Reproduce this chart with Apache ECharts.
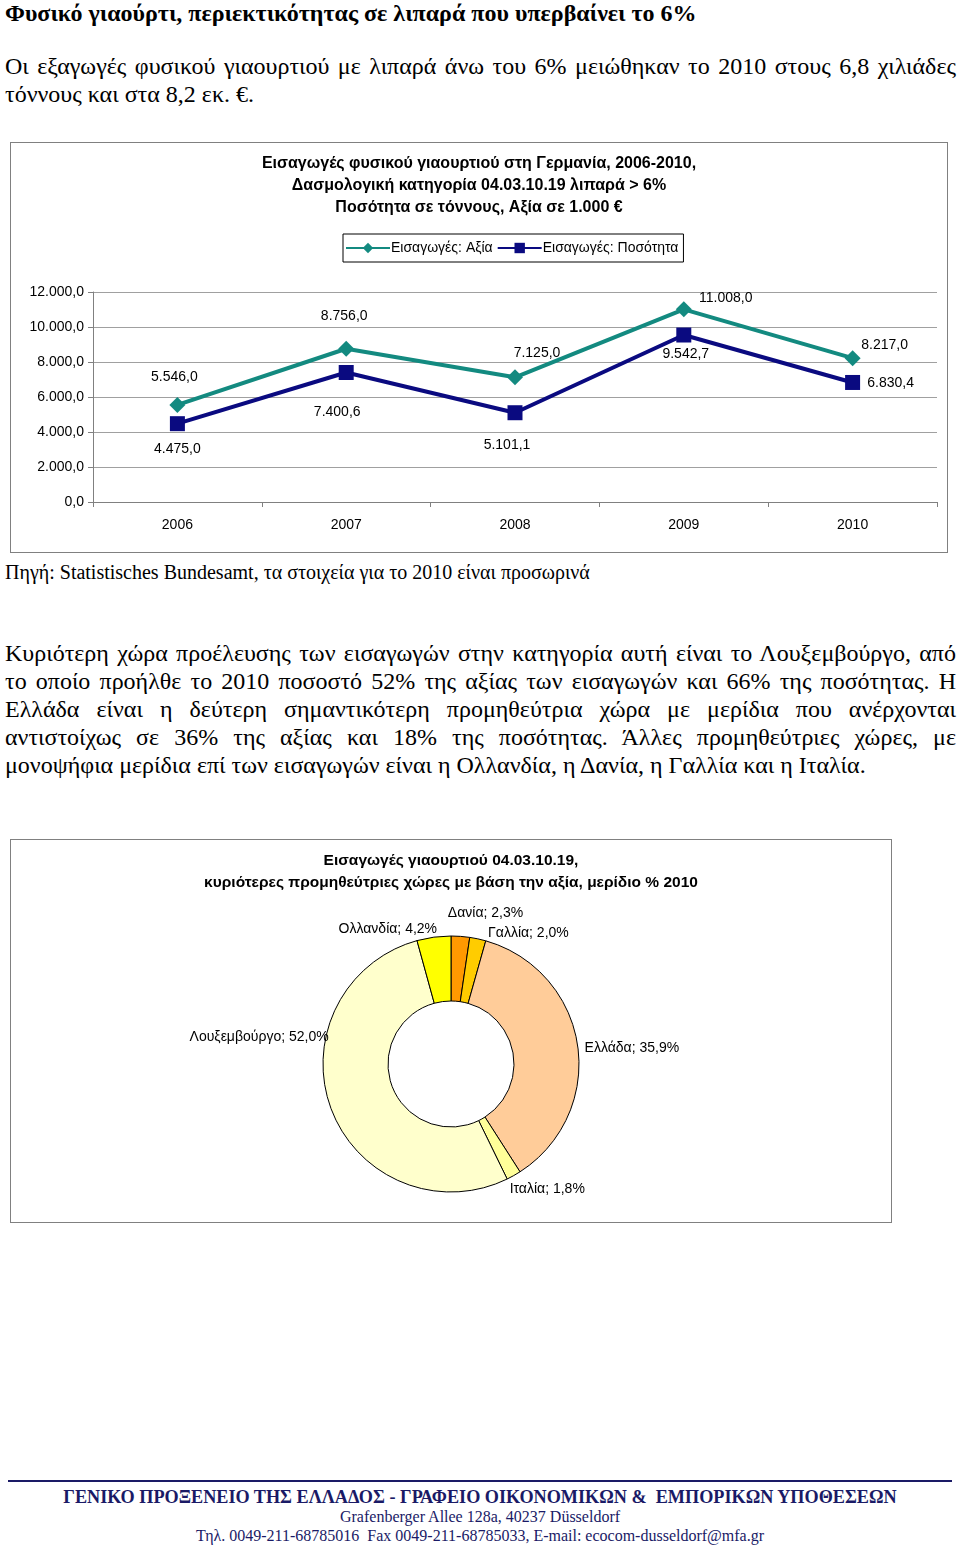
<!DOCTYPE html>
<html>
<head>
<meta charset="utf-8">
<script src="https://cdn.jsdelivr.net/npm/echarts@6/dist/echarts.min.js"></script>
<style>
  html, body { margin:0; padding:0; background:#fff; }
  body { width:960px; height:1553px; position:relative; overflow:hidden; font-family:"Liberation Serif", "DejaVu Serif", serif; color:#000; }
  .abs { position:absolute; }
  .title { left:5px; top:0px; font-size:24px; font-weight:bold; line-height:26px; white-space:nowrap; }
  .para { left:5px; width:951px; font-size:24px; line-height:28px; text-align:justify; }
  .src { left:5px; top:560px; font-size:20px; line-height:24px; white-space:nowrap; }
  .box { border:1px solid #808080; box-sizing:border-box; }
  .foot { left:0; width:960px; text-align:center; color:#1a1a66; white-space:nowrap; }
</style>
</head>
<body>
<div class="abs title">Φυσικό γιαούρτι, περιεκτικότητας σε λιπαρά που υπερβαίνει το 6%</div>
<div class="abs para" style="top:52px;">Οι εξαγωγές φυσικού γιαουρτιού με λιπαρά άνω του 6% μειώθηκαν το 2010 στους 6,8 χιλιάδες τόννους και στα 8,2 εκ. €.</div>

<div id="line" class="abs box" style="left:10px; top:142px; width:938px; height:411px;"></div>

<div class="abs src">Πηγή: Statistisches Bundesamt, τα στοιχεία για το 2010 είναι προσωρινά</div>

<div class="abs para" style="top:639px;">Κυριότερη χώρα προέλευσης των εισαγωγών στην κατηγορία αυτή είναι το Λουξεμβούργο, από το οποίο προήλθε το 2010 ποσοστό 52% της αξίας των εισαγωγών και 66% της ποσότητας. Η Ελλάδα είναι η δεύτερη σημαντικότερη προμηθεύτρια χώρα με μερίδια που ανέρχονται αντιστοίχως σε 36% της αξίας και 18% της ποσότητας. Άλλες προμηθεύτριες χώρες, με μονοψήφια μερίδια επί των εισαγωγών είναι η Ολλανδία, η Δανία, η Γαλλία και η Ιταλία.</div>

<div id="pie" class="abs box" style="left:10px; top:839px; width:882px; height:384px;"></div>

<div class="abs" style="left:8px; top:1480px; width:944px; height:2px; background:#1a1a66;"></div>
<div class="abs foot" style="top:1487px; font-size:18.2px; font-weight:bold; line-height:20px;">ΓΕΝΙΚΟ ΠΡΟΞΕΝΕΙΟ ΤΗΣ ΕΛΛΑΔΟΣ - ΓΡΑΦΕΙΟ ΟΙΚΟΝΟΜΙΚΩΝ &amp;&nbsp; ΕΜΠΟΡΙΚΩΝ ΥΠΟΘΕΣΕΩΝ</div>
<div class="abs foot" style="top:1507px; font-size:16px; line-height:20px;">Grafenberger Allee 128a, 40237 Düsseldorf</div>
<div class="abs foot" style="top:1526px; font-size:16px; line-height:20px;">Τηλ. 0049-211-68785016&nbsp; Fax 0049-211-68785033, E-mail: ecocom-dusseldorf@mfa.gr</div>

<script>
// ---- Data ----
const years = ["2006", "2007", "2008", "2009", "2010"];
const valueSeries = [5546.0, 8756.0, 7125.0, 11008.0, 8217.0];   // Εισαγωγές: Αξία (1.000 €)
const quantitySeries = [4475.0, 7400.6, 5101.1, 9542.7, 6830.4]; // Εισαγωγές: Ποσότητα (t)
const yTicks = [0, 2000, 4000, 6000, 8000, 10000, 12000];

const countries = ["Δανία", "Γαλλία", "Ελλάδα", "Ιταλία", "Λουξεμβούργο", "Ολλανδία"];
const shares = [2.3, 2.0, 35.9, 1.8, 52.0, 4.2];

// ---- Helpers / styles ----
function fmtNum(v) {
  const s = v.toFixed(1);
  let [i, d] = s.split(".");
  i = i.replace(/\B(?=(\d{3})+(?!\d))/g, ".");
  return i + "," + d;
}
const FONT = "Liberation Sans, Arial, sans-serif";
// label offsets (layout only)
const valueLabelOffsets = [[-3, 3], [-2, -2], [22, 7], [42, 20], [32, 18]];
const qtyLabelOffsets = [[0, -3], [-9, 11], [-8, 4], [2, -9], [38, -28]];
const pieLabelShift = [[-18, -17], [4, 0], [-4, 4], [-12, 8], [8, -74], [9, -2]];

const line = echarts.init(document.getElementById('line'));
line.setOption({
  animation: false,
  title: {
    text: "Εισαγωγές φυσικού γιαουρτιού στη Γερμανία, 2006-2010,\nΔασμολογική κατηγορία 04.03.10.19 λιπαρά > 6%\nΠοσότητα σε τόννους, Αξία σε 1.000 €",
    left: 'center', top: 5,
    textStyle: { fontFamily: FONT, fontSize: 16, fontWeight: 'bold', lineHeight: 22, color: '#000' }
  },
  legend: {
    top: 91, left: 332,
    borderColor: '#000', borderWidth: 1, padding: [7, 5, 7, 2],
    itemWidth: 44, itemHeight: 13, itemGap: 4,
    textStyle: { fontFamily: FONT, fontSize: 14, color: '#000', padding: [0, 0, 0, -4] },
    data: ["Εισαγωγές: Αξία", "Εισαγωγές: Ποσότητα"]
  },
  grid: { left: 82, right: 10, top: 149, bottom: 50 },
  xAxis: {
    type: 'category', data: years, boundaryGap: true,
    axisLine: { lineStyle: { color: '#808080', width: 1 } },
    axisTick: { show: true, length: 5, lineStyle: { color: '#808080' } },
    axisLabel: { fontFamily: FONT, fontSize: 14, color: '#000', margin: 16 }
  },
  yAxis: {
    type: 'value', min: yTicks[0], max: yTicks[yTicks.length - 1], interval: 2000,
    axisLine: { show: true, lineStyle: { color: '#808080' } },
    axisTick: { show: true, length: 5, lineStyle: { color: '#808080' } },
    axisLabel: { fontFamily: FONT, fontSize: 14, color: '#000', margin: 9, formatter: v => fmtNum(v) },
    splitLine: { lineStyle: { color: '#a0a0a0', width: 1 } }
  },
  series: [
    {
      name: "Εισαγωγές: Αξία", type: 'line',
      data: valueSeries.map((v, i) => ({ value: v, label: { offset: valueLabelOffsets[i] } })),
      symbol: 'diamond', symbolSize: 16,
      lineStyle: { color: '#138a80', width: 4 },
      itemStyle: { color: '#138a80' },
      label: { show: true, position: 'top', distance: 16, fontFamily: FONT, fontSize: 14, color: '#000', formatter: p => fmtNum(p.value) },
      z: 2
    },
    {
      name: "Εισαγωγές: Ποσότητα", type: 'line',
      data: quantitySeries.map((v, i) => ({ value: v, label: { offset: qtyLabelOffsets[i] } })),
      symbol: 'rect', symbolSize: 15,
      lineStyle: { color: '#0a0a80', width: 4 },
      itemStyle: { color: '#0a0a80' },
      label: { show: true, position: 'bottom', distance: 14, fontFamily: FONT, fontSize: 14, color: '#000', formatter: p => fmtNum(p.value) },
      z: 3
    }
  ]
});

const pieColors = ["#ff9900", "#ffcc00", "#ffcc99", "#ffff99", "#ffffcc", "#ffff00"];
const pie = echarts.init(document.getElementById('pie'));
pie.setOption({
  animation: false,
  title: {
    text: "Εισαγωγές γιαουρτιού 04.03.10.19,\nκυριότερες προμηθεύτριες χώρες με βάση την αξία, μερίδιο % 2010",
    left: 'center', top: 5,
    textStyle: { fontFamily: FONT, fontSize: 15.5, fontWeight: 'bold', lineHeight: 22, color: '#000' }
  },
  series: [{
    type: 'pie',
    center: [440, 224],
    radius: [63, 128],
    startAngle: 90,
    clockwise: true,
    avoidLabelOverlap: false,
    data: countries.map((c, i) => ({ name: c, value: shares[i], itemStyle: { color: pieColors[i] } })),
    itemStyle: { borderColor: '#000', borderWidth: 1 },
    label: {
      show: true, position: 'outside', fontFamily: FONT, fontSize: 14, color: '#000',
      formatter: p => p.name + "; " + p.value.toFixed(1).replace(".", ",") + "%"
    },
    labelLine: { show: false, length: 6, length2: 0 },
    labelLayout: p => ({ dx: pieLabelShift[p.dataIndex][0], dy: pieLabelShift[p.dataIndex][1], hideOverlap: false }),
    emphasis: { disabled: true }
  }]
});
</script>
</body>
</html>
